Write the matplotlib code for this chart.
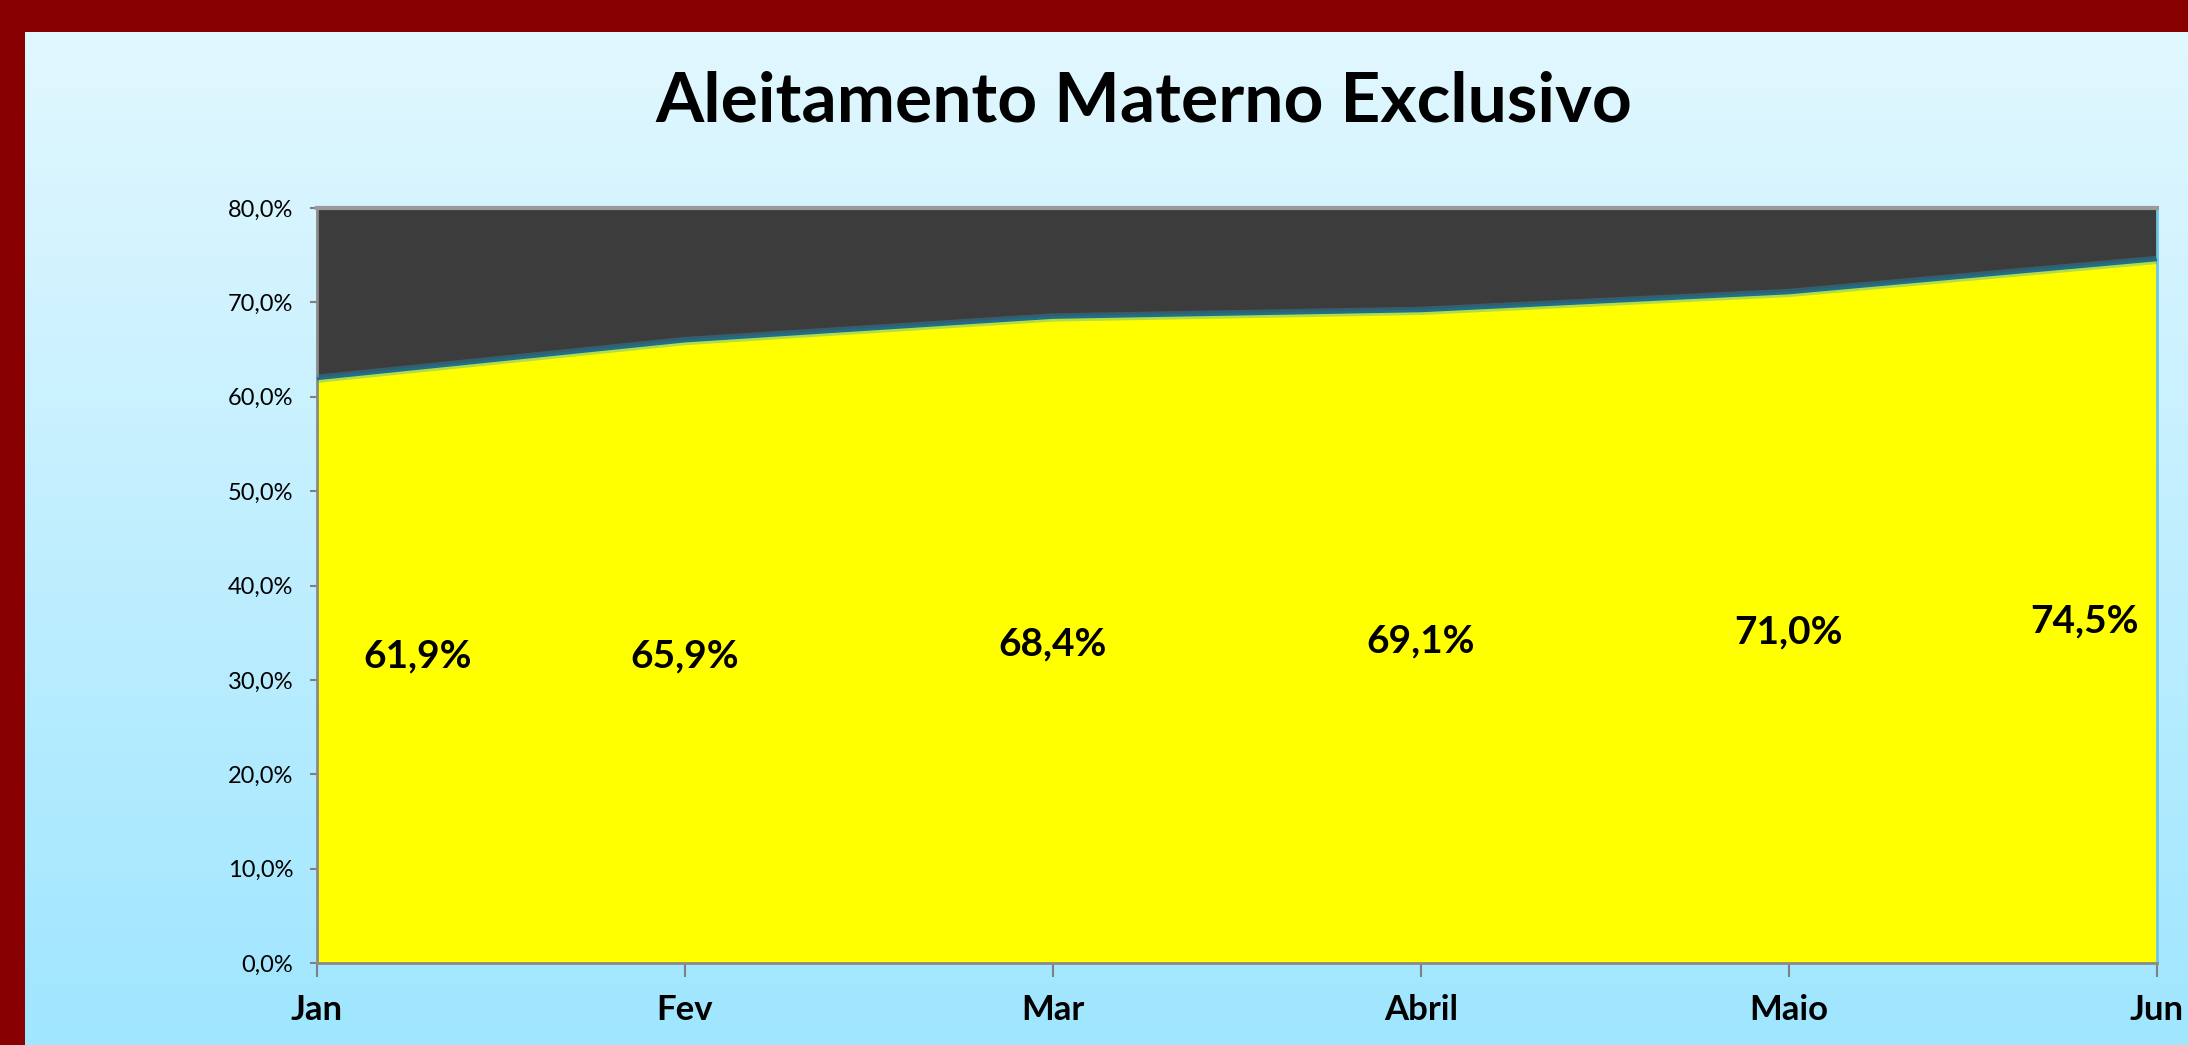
import numpy as np
import matplotlib.pyplot as plt
from matplotlib.patches import Rectangle
from matplotlib.colors import LinearSegmentedColormap

months = ["Jan", "Fev", "Mar", "Abril", "Maio", "Jun"]
values = [61.9, 65.9, 68.4, 69.1, 71.0, 74.5]
labels = ["61,9%", "65,9%", "68,4%", "69,1%", "71,0%", "74,5%"]
yticks = [0, 10, 20, 30, 40, 50, 60, 70, 80]

plt.rcParams["font.family"] = ["Lato", "DejaVu Sans"]

W, H = 2188, 1045
fig = plt.figure(figsize=(W / 100, H / 100), dpi=100)

# background gradient + dark red frame
bg = fig.add_axes([0, 0, 1, 1], zorder=-10)
bg.set_axis_off()
grad = LinearSegmentedColormap.from_list("bg", ["#9fe6fe", "#e4f8fe"])
bg.imshow(np.linspace(0, 1, 256).reshape(-1, 1), aspect="auto", cmap=grad,
          origin="lower", extent=[0, 1, 0, 1])
bg.set_xlim(0, 1)
bg.set_ylim(0, 1)
bg.add_patch(Rectangle((0, 1 - 32 / H), 1, 32 / H, color="#880000", lw=0))
bg.add_patch(Rectangle((0, 0), 25 / W, 1, color="#880000", lw=0))

fig.text(1144 / W, 1 - 102 / H, "Aleitamento Materno Exclusivo",
         ha="center", va="center", fontsize=50, fontweight="bold")

ax = fig.add_axes([317 / W, 82 / H, (2157 - 317) / W, (963 - 208) / H])
ax.set_facecolor("#3c3c3c")
x = np.arange(len(months))
ax.fill_between(x, 0, values, color="#ffff00", zorder=2)
ax.plot(x, values, color="#2aa0c8", lw=6, alpha=0.35, zorder=3)
ax.plot(x, values, color="#1f6f8a", lw=2, zorder=4)

ax.set_xlim(0, len(months) - 1)
ax.set_ylim(0, 80)
ax.set_yticks(yticks)
ax.set_yticklabels([f"{t},0%" for t in yticks], fontsize=17)
ax.set_xticks(x)
ax.set_xticklabels(months, fontsize=25, fontweight="bold")
ax.tick_params(axis="y", length=5, width=1.5, color="#808080", pad=12)
ax.tick_params(axis="x", length=10, width=1.5, color="#808080", pad=12)

for s in ["left", "bottom"]:
    ax.spines[s].set_color("#8a8a8a")
    ax.spines[s].set_linewidth(2)
ax.spines["top"].set_color("#9a9a9a")
ax.spines["top"].set_linewidth(3)
ax.spines["right"].set_color("#6cc6e6")
ax.spines["right"].set_linewidth(2)

for i, (v, lab) in enumerate(zip(values, labels)):
    if i == 0:
        xy, off, ha = (0, v / 2), (46, 15), "left"
    elif i == len(values) - 1:
        xy, off, ha = (i, v / 2), (-18, -10), "right"
    else:
        xy, off, ha = (i, v / 2), (0, -4), "center"
    ax.annotate(lab, xy=xy, xytext=off, textcoords="offset pixels",
                ha=ha, va="center", fontsize=28, fontweight="bold", zorder=5)

fig.savefig("out.png", dpi=100)
